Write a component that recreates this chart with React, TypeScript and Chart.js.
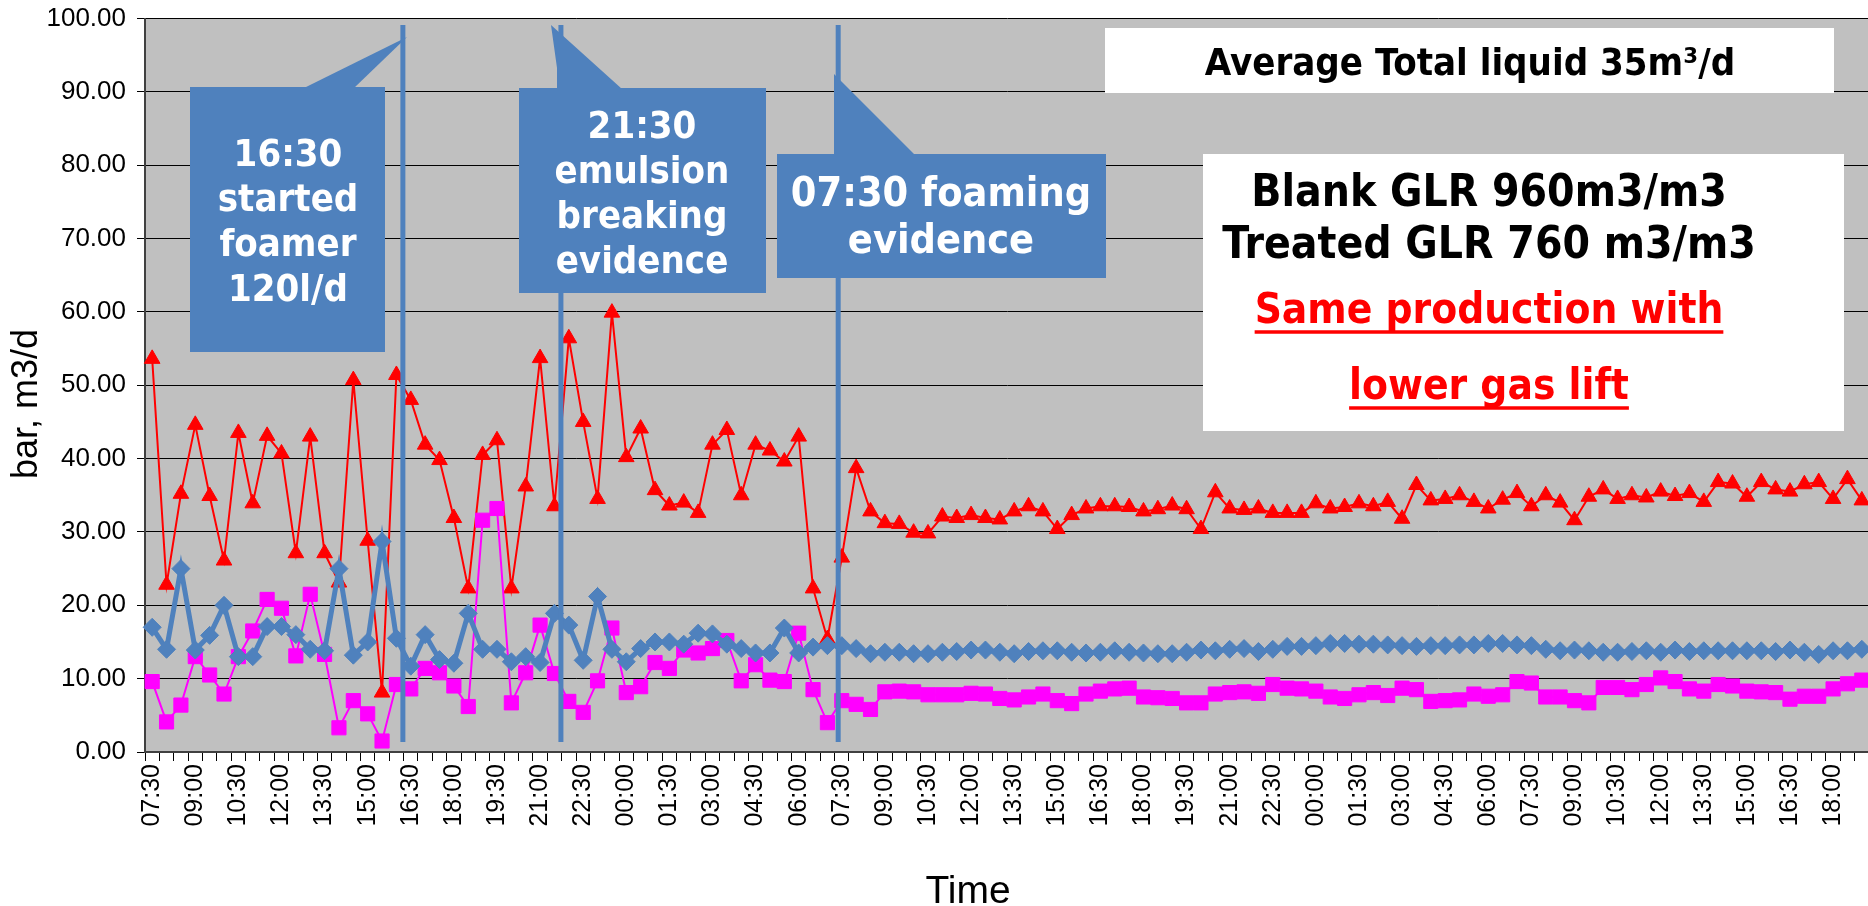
import { useEffect, useRef } from 'react';
import { Chart, registerables } from 'chart.js';

Chart.register(...registerables);

// ---------- categories (30-minute readings over ~2.5 days) ----------
const timeLabels = [
  '07:30', '08:00', '08:30', '09:00', '09:30', '10:00', '10:30', '11:00', '11:30', '12:00',
  '12:30', '13:00', '13:30', '14:00', '14:30', '15:00', '15:30', '16:00', '16:30', '17:00',
  '17:30', '18:00', '18:30', '19:00', '19:30', '20:00', '20:30', '21:00', '21:30', '22:00',
  '22:30', '23:00', '23:30',
  '00:00', '00:30', '01:00', '01:30', '02:00', '02:30', '03:00', '03:30', '04:00', '04:30',
  '05:00', '05:30', '06:00', '06:30', '07:00', '07:30', '08:00', '08:30', '09:00', '09:30',
  '10:00', '10:30', '11:00', '11:30', '12:00', '12:30', '13:00', '13:30', '14:00', '14:30',
  '15:00', '15:30', '16:00', '16:30', '17:00', '17:30', '18:00', '18:30', '19:00', '19:30',
  '20:00', '20:30', '21:00', '21:30', '22:00', '22:30', '23:00', '23:30',
  '00:00', '00:30', '01:00', '01:30', '02:00', '02:30', '03:00', '03:30', '04:00', '04:30',
  '05:00', '05:30', '06:00', '06:30', '07:00', '07:30', '08:00', '08:30', '09:00', '09:30',
  '10:00', '10:30', '11:00', '11:30', '12:00', '12:30', '13:00', '13:30', '14:00', '14:30',
  '15:00', '15:30', '16:00', '16:30', '17:00', '17:30', '18:00', '18:30', '19:00',
];

// ---------- series values ----------
const redSeries = [
  53.6, 22.8, 35.2, 44.6, 34.9, 26.1, 43.5, 33.9, 43.1,
  40.7, 27.1, 43.0, 27.1, 23.1, 50.7, 28.8, 8.1, 51.4, 48.0,
  41.9, 39.8, 31.9, 22.3, 40.5, 42.5, 22.3, 36.2, 53.7, 33.5,
  56.4, 45.0, 34.5, 59.9, 40.2, 44.1, 35.7, 33.6, 34.0, 32.6,
  41.9, 43.9, 35.0, 41.9, 41.1, 39.6, 43.0, 22.3, 15.4, 26.5,
  38.7, 32.8, 31.2, 31.1, 29.9, 29.8, 32.1, 31.9, 32.3, 31.9,
  31.7, 32.8, 33.5, 32.8, 30.4, 32.3, 33.2, 33.5, 33.5, 33.4,
  32.8, 33.1, 33.6, 33.1, 30.4, 35.4, 33.2, 33.0, 33.2, 32.6,
  32.6, 32.6, 33.9, 33.2, 33.4, 33.9, 33.5, 34.1, 31.8, 36.4,
  34.3, 34.5, 35.0, 34.1, 33.2, 34.4, 35.3, 33.5, 35.0, 34.0,
  31.6, 34.8, 35.8, 34.5, 35.0, 34.7, 35.5, 34.9, 35.3, 34.1,
  36.8, 36.6, 34.8, 36.8, 35.8, 35.5, 36.5, 36.8, 34.5, 37.2,
  34.3,
];

const blueSeries = [
  17.0, 14.0, 25.0, 13.9, 15.9, 20.0, 13.0, 13.0, 17.1,
  17.1, 16.0, 14.0, 13.8, 25.0, 13.2, 15.0, 28.7, 15.5, 11.7,
  16.0, 12.6, 12.1, 18.9, 14.0, 14.0, 12.3, 13.0, 12.2, 18.9,
  17.3, 12.5, 21.2, 14.0, 12.3, 14.1, 15.0, 15.0, 14.7, 16.2,
  16.1, 14.7, 14.1, 13.5, 13.5, 16.9, 13.5, 14.3, 14.5, 14.5,
  14.1, 13.4, 13.6, 13.6, 13.4, 13.4, 13.6, 13.7, 13.9, 13.9,
  13.6, 13.4, 13.7, 13.8, 13.8, 13.6, 13.5, 13.6, 13.8, 13.6,
  13.5, 13.4, 13.4, 13.6, 13.9, 13.8, 14.0, 14.1, 13.7, 14.0,
  14.4, 14.4, 14.5, 14.8, 14.8, 14.7, 14.7, 14.6, 14.5, 14.4,
  14.5, 14.5, 14.6, 14.6, 14.8, 14.8, 14.6, 14.5, 14.0, 13.8,
  13.9, 13.8, 13.6, 13.6, 13.7, 13.8, 13.6, 13.9, 13.7, 13.8,
  13.8, 13.8, 13.8, 13.8, 13.7, 13.9, 13.6, 13.3, 13.8, 13.8,
  14.0,
];

const magentaSeries = [
  9.6, 4.1, 6.4, 13.0, 10.5, 7.9, 13.0, 16.5, 20.8,
  19.6, 13.1, 21.5, 13.3, 3.3, 7.0, 5.2, 1.5, 9.2, 8.6,
  11.4, 10.8, 9.0, 6.2, 31.6, 33.2, 6.7, 10.8, 17.3, 10.7,
  6.9, 5.4, 9.7, 16.9, 8.1, 8.9, 12.2, 11.4, 13.9, 13.5,
  14.1, 15.2, 9.7, 11.9, 9.8, 9.6, 16.2, 8.5, 4.0, 7.0,
  6.5, 5.8, 8.2, 8.3, 8.2, 7.8, 7.8, 7.8, 8.0, 7.9,
  7.3, 7.1, 7.5, 7.9, 7.0, 6.6, 7.9, 8.3, 8.6, 8.7,
  7.5, 7.4, 7.3, 6.7, 6.7, 7.9, 8.1, 8.2, 8.0, 9.2,
  8.7, 8.6, 8.3, 7.5, 7.3, 7.8, 8.1, 7.7, 8.7, 8.5,
  6.9, 7.0, 7.1, 7.9, 7.6, 7.8, 9.6, 9.4, 7.5, 7.5,
  7.0, 6.7, 8.8, 8.8, 8.5, 9.2, 10.1, 9.6, 8.6, 8.3,
  9.2, 9.0, 8.3, 8.2, 8.1, 7.2, 7.6, 7.6, 8.6, 9.3,
  9.8,
];

// ---------- y axis ----------
const yMin = 0;
const yMax = 100;
const yStep = 10;

// ---------- events (category position of the marker lines) ----------
const eventPositions = [17.45, 28.45, 47.75];
const eventTexts = [
  ['16:30', 'started', 'foamer', '120l/d'],
  ['21:30', 'emulsion', 'breaking', 'evidence'],
  ['07:30 foaming', 'evidence'],
];

// ---------- notes ----------
const avgNote = 'Average Total liquid 35m\u00B3/d';
const glrNotes = ['Blank GLR 960m3/m3', 'Treated GLR 760 m3/m3'];
const redNotes = ['Same production with', 'lower gas lift'];
const yTitle = 'bar, m3/d';
const xTitle = 'Time';

const BLUE = '#4F81BD';
const ARIAL = '"Liberation Sans", Arial, sans-serif';
const TAHOMA = '"DejaVu Sans Condensed", "DejaVu Sans", sans-serif';

type Box = { x: number; y: number; w: number; h: number };
type Pt = [number, number];

const callouts: { box: Box; pointer: Pt[]; cx: number; base: number; step: number; size: number }[] = [
  { box: { x: 190, y: 87, w: 195, h: 265 }, pointer: [[304, 88], [354, 88], [407, 37]], cx: 288, base: 166, step: 45, size: 38 },
  { box: { x: 519, y: 88, w: 247, h: 205 }, pointer: [[551, 25], [557, 68], [557, 89], [622, 89]], cx: 642, base: 138, step: 45, size: 38 },
  { box: { x: 777, y: 154, w: 329, h: 124 }, pointer: [[834, 74], [834, 155], [915, 155]], cx: 941, base: 206, step: 47, size: 41 },
];

const decorPlugin = {
  id: 'decor',
  beforeDraw(chart: any) {
    const { ctx, chartArea: a } = chart;
    ctx.save();
    ctx.fillStyle = '#C0C0C0';
    ctx.fillRect(a.left, a.top, a.right - a.left, a.bottom - a.top);
    ctx.restore();
  },
  afterDatasetsDraw(chart: any) {
    const { ctx } = chart;
    const xs = chart.scales.x;
    ctx.save();

    // event marker lines
    ctx.strokeStyle = BLUE;
    ctx.lineWidth = 5;
    eventPositions.forEach((v) => {
      const px = xs.getPixelForValue(v);
      ctx.beginPath();
      ctx.moveTo(px, 25);
      ctx.lineTo(px, 742);
      ctx.stroke();
    });

    // callouts
    callouts.forEach((c, k) => {
      ctx.fillStyle = BLUE;
      ctx.beginPath();
      c.pointer.forEach((p, j) => (j === 0 ? ctx.moveTo(p[0], p[1]) : ctx.lineTo(p[0], p[1])));
      ctx.closePath();
      ctx.fill();
      ctx.fillRect(c.box.x, c.box.y, c.box.w, c.box.h);
      ctx.fillStyle = '#FFFFFF';
      ctx.font = `bold ${c.size}px ${TAHOMA}`;
      ctx.textAlign = 'center';
      ctx.textBaseline = 'alphabetic';
      eventTexts[k].forEach((t, j) => ctx.fillText(t, c.cx, c.base + j * c.step));
    });

    // average note
    ctx.fillStyle = '#FFFFFF';
    ctx.fillRect(1105, 28, 729, 65);
    ctx.fillStyle = '#000000';
    ctx.font = `bold 38px ${TAHOMA}`;
    ctx.textAlign = 'center';
    ctx.fillText(avgNote, 1470, 75);

    // GLR note
    ctx.fillStyle = '#FFFFFF';
    ctx.fillRect(1203, 154, 641, 277);
    ctx.fillStyle = '#000000';
    ctx.font = `bold 44px ${TAHOMA}`;
    ctx.fillText(glrNotes[0], 1489, 206);
    ctx.fillText(glrNotes[1], 1489, 258);
    ctx.font = `bold 42px ${TAHOMA}`;
    ctx.fillStyle = '#FF0000';
    ctx.strokeStyle = '#FF0000';
    ctx.lineWidth = 3.5;
    const redBase = [323, 399];
    redNotes.forEach((t, j) => {
      ctx.fillText(t, 1489, redBase[j]);
      const w = ctx.measureText(t).width;
      ctx.beginPath();
      ctx.moveTo(1489 - w / 2, redBase[j] + 9);
      ctx.lineTo(1489 + w / 2, redBase[j] + 9);
      ctx.stroke();
    });

    // axis titles
    ctx.fillStyle = '#000000';
    ctx.font = `36px ${ARIAL}`;
    ctx.textAlign = 'center';
    ctx.textBaseline = 'middle';
    ctx.save();
    ctx.translate(27, 404);
    ctx.rotate(-Math.PI / 2);
    ctx.fillText(yTitle, 0, 0);
    ctx.restore();
    ctx.font = `39px ${ARIAL}`;
    ctx.textBaseline = 'alphabetic';
    ctx.fillText(xTitle, 968, 903);

    ctx.restore();
  },
};

export default function App() {
  const ref = useRef<HTMLCanvasElement | null>(null);

  useEffect(() => {
    if (!ref.current) return;
    const chart = new Chart(ref.current, {
      type: 'line',
      data: {
        labels: timeLabels,
        datasets: [
          {
            label: 'Blue',
            data: blueSeries,
            borderColor: BLUE,
            backgroundColor: BLUE,
            borderWidth: 5,
            pointStyle: 'rectRot',
            pointRadius: 9,
            pointBorderWidth: 1,
            pointBackgroundColor: BLUE,
            pointBorderColor: BLUE,
            tension: 0,
          },
          {
            label: 'Magenta',
            data: magentaSeries,
            borderColor: '#FF00FF',
            backgroundColor: '#FF00FF',
            borderWidth: 2,
            pointStyle: 'rect',
            pointRadius: 10,
            pointBorderWidth: 1,
            pointBackgroundColor: '#FF00FF',
            pointBorderColor: '#FF00FF',
            tension: 0,
          },
          {
            label: 'Red',
            data: redSeries,
            borderColor: '#FF0000',
            backgroundColor: '#FF0000',
            borderWidth: 2,
            pointStyle: 'triangle',
            pointRadius: 9,
            pointBorderWidth: 1,
            pointBackgroundColor: '#FF0000',
            pointBorderColor: '#FF0000',
            tension: 0,
          },
        ],
      },
      options: {
        animation: false,
        responsive: true,
        maintainAspectRatio: false,
        layout: { padding: { top: 18.5, right: 2, left: 0, bottom: 0 } },
        plugins: { legend: { display: false }, tooltip: { enabled: false } },
        scales: {
          x: {
            type: 'category',
            offset: true,
            grid: { offset: true, drawOnChartArea: false, drawTicks: true, tickLength: 9, color: '#000000', lineWidth: 1 },
            border: { display: true, color: '#404040', width: 2 },
            ticks: {
              autoSkip: false,
              maxRotation: 90,
              minRotation: 90,
              padding: 3,
              color: '#000000',
              font: { family: ARIAL, size: 25 },
              callback: (_v: any, i: number) => (i % 3 === 0 ? timeLabels[i] : ''),
            },
            afterFit: (s: any) => {
              s.height = 154;
              s.paddingLeft = 0;
              s.paddingRight = 0;
            },
          },
          y: {
            min: yMin,
            max: yMax,
            ticks: {
              stepSize: yStep,
              padding: 11,
              color: '#000000',
              font: { family: ARIAL, size: 26 },
              callback: (v: any) => Number(v).toFixed(2),
            },
            grid: { color: '#000000', lineWidth: 1, tickLength: 8, drawTicks: true },
            border: { display: true, color: '#404040', width: 2 },
            afterFit: (s: any) => {
              s.width = 145;
              s.paddingTop = 0;
              s.paddingBottom = 0;
            },
          },
        },
      },
      plugins: [decorPlugin],
    });
    return () => chart.destroy();
  }, []);

  return (
    <div
      style={{
        position: 'fixed',
        left: 0,
        top: 0,
        width: 1868,
        height: 906,
        overflow: 'hidden',
        background: '#FFFFFF',
      }}
    >
      <div style={{ position: 'relative', width: 1880, height: 906 }}>
        <canvas ref={ref} />
      </div>
    </div>
  );
}
